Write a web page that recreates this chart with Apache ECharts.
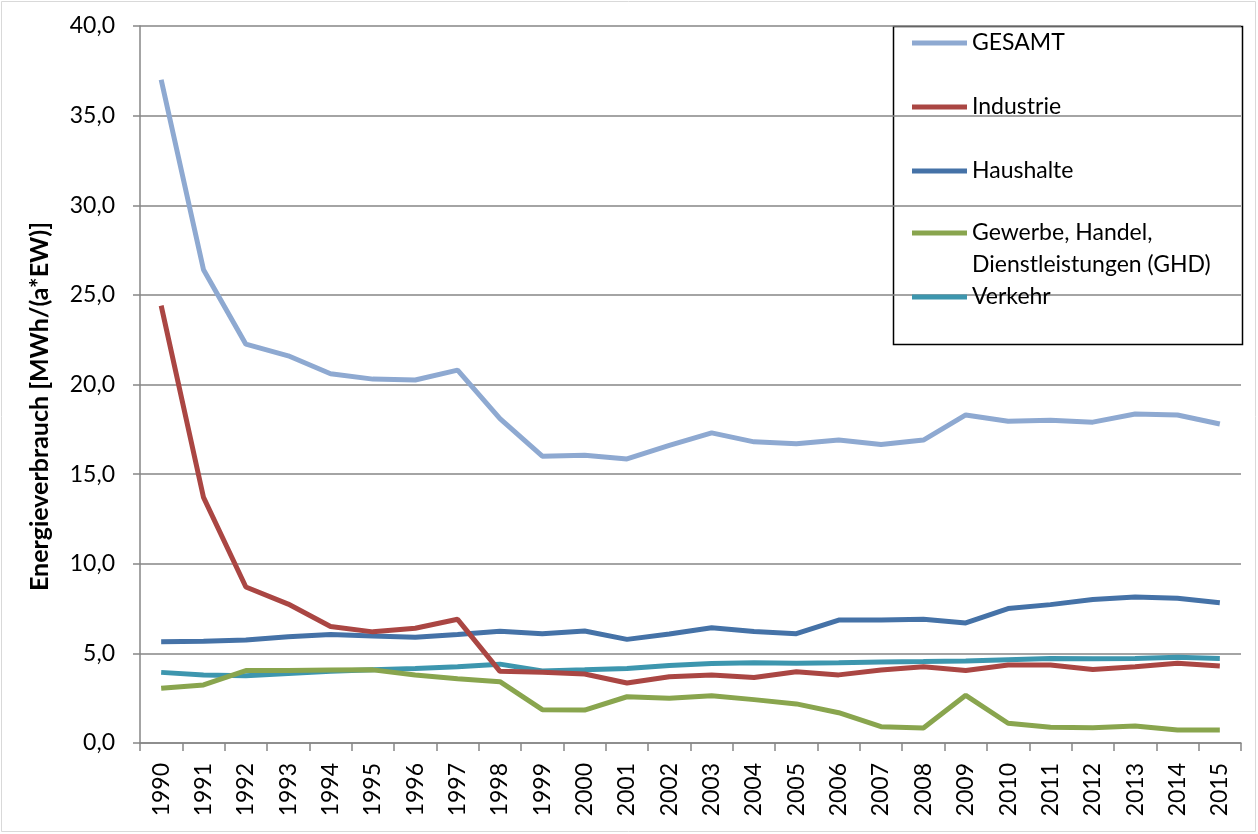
<!DOCTYPE html>
<html><head><meta charset="utf-8">
<script src="https://cdn.jsdelivr.net/npm/echarts@6/dist/echarts.min.js"></script>
<style>html,body{margin:0;padding:0;background:#fff}#c{width:1258px;height:834px}</style>
</head><body><div id="c"></div>
<script>
var years = ['1990','1991','1992','1993','1994','1995','1996','1997','1998','1999','2000','2001','2002','2003','2004','2005','2006','2007','2008','2009','2010','2011','2012','2013','2014','2015'];
var gesamt = [37.0,26.4,22.25,21.6,20.6,20.3,20.25,20.8,18.1,16.0,16.05,15.85,16.6,17.3,16.8,16.7,16.9,16.65,16.9,18.3,17.95,18.0,17.9,18.35,18.3,17.8];
var industrie = [24.4,13.7,8.7,7.75,6.5,6.2,6.4,6.9,4.0,3.95,3.85,3.35,3.7,3.8,3.65,3.98,3.8,4.07,4.26,4.05,4.35,4.35,4.1,4.26,4.45,4.3];
var haushalte = [5.65,5.67,5.75,5.93,6.05,5.97,5.9,6.05,6.23,6.1,6.25,5.78,6.08,6.43,6.22,6.1,6.86,6.86,6.9,6.7,7.5,7.72,8.0,8.15,8.07,7.82];
var gewerbe = [3.05,3.24,4.04,4.04,4.07,4.08,3.79,3.59,3.42,1.86,1.84,2.58,2.49,2.64,2.42,2.18,1.69,0.91,0.84,2.66,1.1,0.88,0.85,0.95,0.73,0.73];
var verkehr = [3.94,3.79,3.75,3.88,4.0,4.08,4.15,4.25,4.4,4.02,4.08,4.15,4.33,4.43,4.48,4.45,4.48,4.52,4.54,4.58,4.65,4.72,4.7,4.72,4.78,4.72];
var names = ['GESAMT','Industrie','Haushalte','Gewerbe, Handel,\nDienstleistungen (GHD)','Verkehr'];
var colors = ['#8EA9D1','#AA4643','#4572A7','#89A54E','#3D96AE'];
var FONT = 'Lato, "Open Sans", sans-serif';

var chart = echarts.init(document.getElementById('c'));
var seriesData = [gesamt, industrie, haushalte, gewerbe, verkehr];
var legendTops = [27, 91, 155, 185, 281];
var legends = names.map(function(n, i){
  var lg = {
    orient: 'vertical', left: 912, top: legendTops[i], padding: 0,
    itemWidth: 55, itemHeight: 20, itemGap: 5, icon: 'path://M0,7.5L55,7.5L55,12.5L0,12.5Z',
    data: [n], selectedMode: false,
    textStyle: {fontFamily: FONT, fontSize: 23, color: '#000', lineHeight: 32}
  };
  if (i === 3) lg.formatter = function(name){ return '\n' + name; };
  return lg;
});
chart.setOption({
  animation: false,
  backgroundColor: '#fff',
  color: colors,
  graphic: [
    {type:'rect', shape:{x:1.5,y:1.5,width:1254,height:830}, style:{fill:'none', stroke:'#d9d9d9', lineWidth:1}, silent:true},
    {type:'rect', shape:{x:893.5,y:26.5,width:349,height:318}, style:{fill:'#fff', stroke:'#000', lineWidth:1.5}, z:-1, silent:true}
  ],
  legend: legends,
  grid: {left: 140, right: 17, top: 26, bottom: 91, containLabel: false},
  xAxis: {
    type: 'category', data: years, boundaryGap: true,
    axisLine: {lineStyle: {color: '#868686', width: 1.5}},
    axisTick: {show: true, length: 8, lineStyle: {color: '#868686', width: 1.5}},
    axisLabel: {rotate: 90, fontFamily: FONT, fontSize: 23, color: '#000', margin: 20, interval: 0}
  },
  yAxis: {
    type: 'value', min: 0, max: 40, interval: 5,
    name: 'Energieverbrauch [MWh/(a*EW)]', nameLocation: 'middle', nameGap: 88,
    nameTextStyle: {fontFamily: FONT, fontSize: 25, fontWeight: 700, color: '#000', padding: [0, 44, 0, 0]},
    axisLine: {show: true, lineStyle: {color: '#868686', width: 1.5}},
    axisTick: {show: true, length: 7, lineStyle: {color: '#868686', width: 1.5}},
    splitLine: {lineStyle: {color: '#868686', width: 1.5}},
    axisLabel: {fontFamily: FONT, fontSize: 23, color: '#000', margin: 25,
      formatter: function(v){ return v.toFixed(1).replace('.', ','); }}
  },
  series: names.map(function(n, i){
    return {name: n, type: 'line', data: seriesData[i], showSymbol: false, symbol: 'none',
      lineStyle: {width: 5, color: colors[i]}, itemStyle: {color: colors[i]}, z: 10 - i};
  })
});
</script></body></html>
